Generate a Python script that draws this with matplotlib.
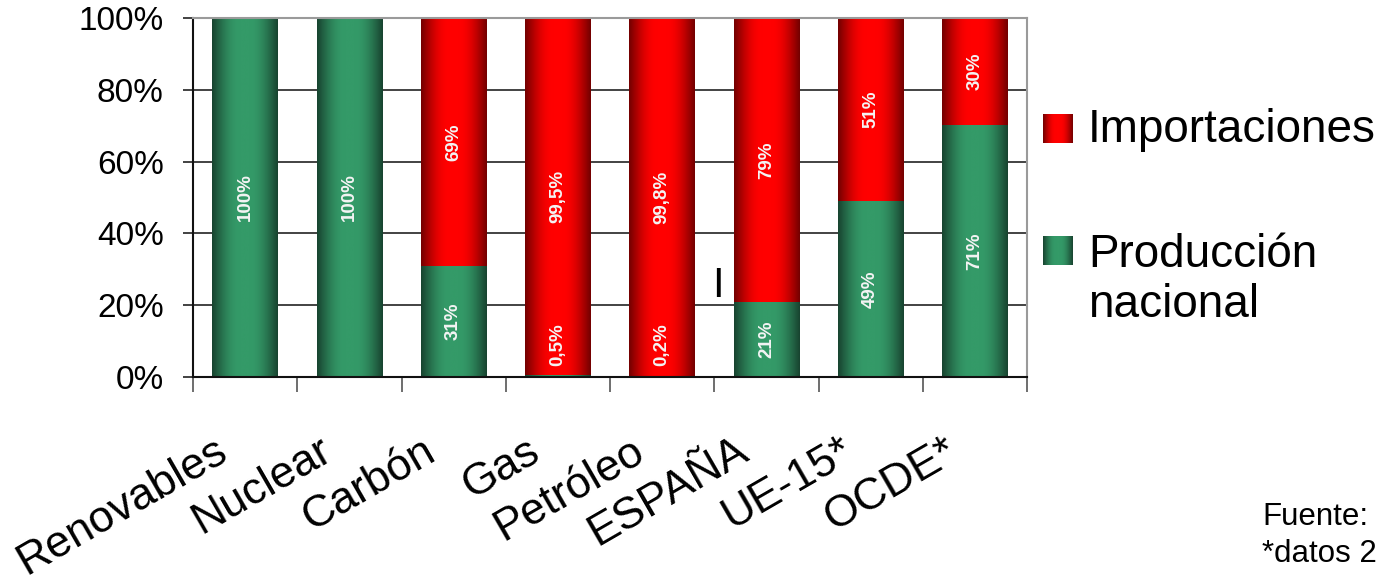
import numpy as np
import matplotlib
matplotlib.use("Agg")
import matplotlib.pyplot as plt
import matplotlib.transforms as mtransforms
from matplotlib.colors import to_rgb

plt.rcParams['font.family'] = ['Liberation Sans', 'DejaVu Sans']

# datos
categorias = ["Renovables", "Nuclear", "Carbón", "Gas", "Petróleo", "ESPAÑA", "UE-15*", "OCDE*"]
produccion = [100, 100, 31, 0.5, 0.2, 21, 49, 71]
importaciones = [0, 0, 69, 99.5, 99.8, 79, 51, 30]
ticks_y = [0, 20, 40, 60, 80, 100]
leyenda = ["Importaciones", "Producción\nnacional"]

W, H = 1377, 577


def degradado(oscuro, claro, n=80):
    """Fila de colores tipo cilindro (oscuro en bordes, claro en el centro)"""
    t = np.linspace(0, 1, n)
    f = np.interp(t, [0, 0.42, 0.58, 1], [0, 1, 1, 0])
    f = np.sin(f * np.pi / 2)
    c0 = np.array(to_rgb(oscuro))
    c1 = np.array(to_rgb(claro))
    return (c0 + (c1 - c0) * f[:, None])[None, :, :]


grad_verde = degradado('#184430', '#349a68')
grad_rojo = degradado('#740000', '#ff0000')


def fmt(v):
    return f"{v:g}%".replace(".", ",")


fig = plt.figure(figsize=(W / 100, H / 100), dpi=100)
ax = fig.add_axes([193 / W, 1 - 377 / H, (1027 - 193) / W, (377 - 18) / H])

x = np.arange(len(categorias))
prod = np.array(produccion, dtype=float)
imp = np.array(importaciones, dtype=float)
total = prod + imp
prod_pct = prod / total * 100
imp_pct = imp / total * 100

barras_p = ax.bar(x, prod_pct, width=0.63, color='none', edgecolor='none')
barras_i = ax.bar(x, imp_pct, bottom=prod_pct, width=0.63, color='none', edgecolor='none')

for barras, grad in [(barras_p, grad_verde), (barras_i, grad_rojo)]:
    for r in barras:
        if r.get_height() <= 0:
            continue
        x0, y0, w, h = r.get_x(), r.get_y(), r.get_width(), r.get_height()
        ax.imshow(grad, extent=(x0, x0 + w, y0, y0 + h), aspect='auto',
                  interpolation='bilinear', zorder=2)

# etiquetas de los segmentos
for barras, valores in [(barras_p, produccion), (barras_i, importaciones)]:
    for r, v in zip(barras, valores):
        if v <= 0:
            continue
        yc = r.get_y() + r.get_height() / 2
        yc = max(yc, 9)
        ax.text(r.get_x() + r.get_width() / 2, yc, fmt(v), rotation=90,
                ha='center', va='center', color='#f4f4f4', fontsize=13.5,
                fontweight='bold', zorder=3)

ax.set_xlim(-0.5, len(categorias) - 0.5)
ax.set_ylim(0, 100)

ax.set_yticks(ticks_y)
ax.set_yticklabels([f"{t}%" for t in ticks_y])
ax.tick_params(axis='y', direction='out', length=7, width=1.2, pad=14,
               labelsize=24, color='#222222')
ax.yaxis.grid(True, color='#222222', linewidth=1.2, zorder=0)
ax.set_axisbelow(True)

ax.set_xticks(x)
ax.set_xticklabels(categorias)
ax.set_xticks(np.arange(len(categorias) + 1) - 0.5, minor=True)
ax.tick_params(axis='x', which='major', length=0, pad=51, labelsize=32)
ax.tick_params(axis='x', which='minor', direction='out', length=11, width=1.2,
               color='#555555')
desplaza = mtransforms.ScaledTranslation(-0.21, 0, fig.dpi_scale_trans)
for lab in ax.get_xticklabels():
    lab.set_rotation(30)
    lab.set_ha('right')
    lab.set_va('center')
    lab.set_rotation_mode('anchor')
    lab.set_transform(lab.get_transform() + desplaza)

for lado in ['left', 'bottom']:
    ax.spines[lado].set_color('#111111')
    ax.spines[lado].set_linewidth(1.5)
for lado in ['top', 'right']:
    ax.spines[lado].set_color('#9a9a9a')
    ax.spines[lado].set_linewidth(1.5)

# leyenda manual con degradados (ybase = linea base de la ultima linea)
for grad, ytop, texto, ybase in [(grad_rojo, 114, leyenda[0], 142),
                                 (grad_verde, 236, leyenda[1], 317)]:
    sw = fig.add_axes([1043 / W, 1 - (ytop + 29) / H, 30 / W, 29 / H])
    sw.imshow(grad, aspect='auto', interpolation='bilinear')
    sw.set_axis_off()
    fig.text(1088 / W, 1 - ybase / H, texto, fontsize=33, ha='left',
             va='baseline', linespacing=1.17)

fig.text(718 / W, 1 - 297 / H, "I", fontsize=30, ha='center', va='baseline')
fig.text(1262 / W, 1 - 525 / H, "Fuente:", fontsize=22.5, ha='left', va='baseline')
fig.text(1262 / W, 1 - 562 / H, "*datos 2", fontsize=22.5, ha='left', va='baseline')

fig.savefig("out.png", dpi=100)
